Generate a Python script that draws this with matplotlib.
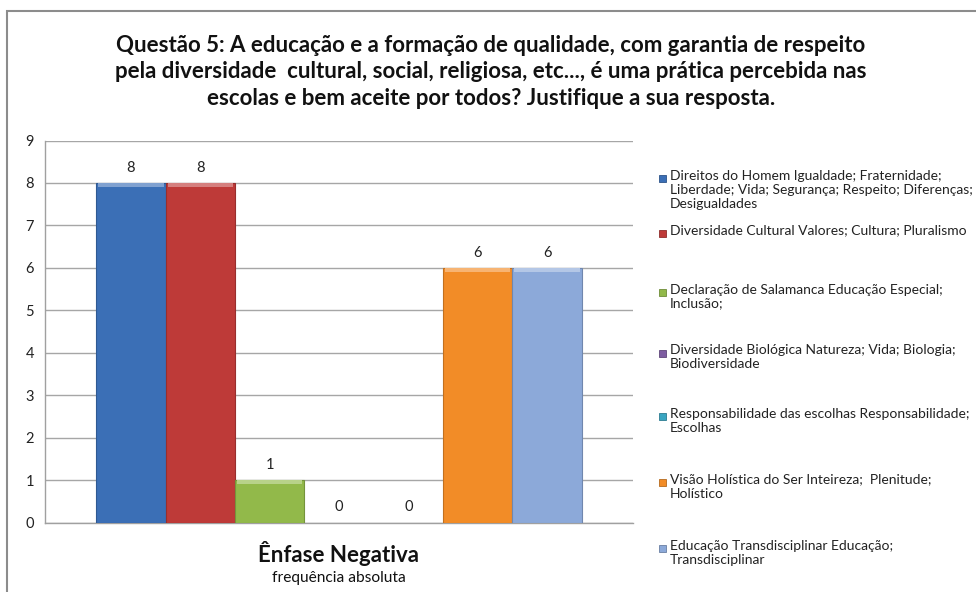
import matplotlib
matplotlib.use("Agg")
import matplotlib.pyplot as plt
from matplotlib.patches import Rectangle
import numpy as np

plt.rcParams["font.family"] = ["Lato", "DejaVu Sans"]

title = ("Questão 5: A educação e a formação de qualidade, com garantia de respeito\n"
         "pela diversidade  cultural, social, religiosa, etc..., é uma prática percebida nas\n"
         "escolas e bem aceite por todos? Justifique a sua resposta.")

series = [
    "Direitos do Homem Igualdade; Fraternidade;\nLiberdade; Vida; Segurança; Respeito; Diferenças;\nDesigualdades",
    "Diversidade Cultural Valores; Cultura; Pluralismo",
    "Declaração de Salamanca Educação Especial;\nInclusão;",
    "Diversidade Biológica Natureza; Vida; Biologia;\nBiodiversidade",
    "Responsabilidade das escolhas Responsabilidade;\nEscolhas",
    "Visão Holística do Ser Inteireza;  Plenitude;\nHolístico",
    "Educação Transdisciplinar Educação;\nTransdisciplinar",
]
values = [8, 8, 1, 0, 0, 6, 6]
colors = ["#3B6FB6", "#BE3A38", "#92B94A", "#7E5DA1", "#3AA5C1", "#F28C27", "#8CA9D9"]
category = "Ênfase Negativa"
subtitle = "frequência absoluta"
yticks = list(range(0, 10))

W, H = 976, 592
fig = plt.figure(figsize=(W / 100, H / 100), dpi=100)

# chart area border
fig.add_artist(Rectangle((7 / W, -0.1), 1.2, 1.1 - 11 / H, transform=fig.transFigure,
                         fill=False, edgecolor="#8C8C8C", lw=1.5))

ax = fig.add_axes([45 / W, 1 - 522.5 / H, 588 / W, 382 / H])

n = len(values)
offsets = np.arange(n) - (n - 1) / 2
for off, v, c in zip(offsets, values, colors):
    rgb = matplotlib.colors.to_rgb(c)
    dark = tuple(x * 0.8 for x in rgb)
    ax.bar(off, v, width=1.0, color=c, edgecolor=dark if v > 0 else "none", linewidth=0.8, zorder=3)
    if v > 0:
        # light bevel on top of the bar
        light = tuple(min(1, x + (1 - x) * 0.35) for x in rgb)
        ax.bar(off, 0.1, bottom=v - 0.1, width=0.94, color=light, linewidth=0, zorder=4)
    ax.annotate(str(v), (off, v), xytext=(0, 11), textcoords="offset points",
                ha="center", va="center", fontsize=10.5, color="#222222")

ax.set_xlim(-4.24, 4.24)
ax.set_ylim(0, 9)
ax.set_yticks(yticks)
ax.set_xticks([])
ax.tick_params(axis="y", length=0, pad=8, labelsize=10.5, labelcolor="#222222")
ax.yaxis.grid(True, color="#A6A6A6", lw=1)
ax.set_axisbelow(True)
for s in ["top", "right"]:
    ax.spines[s].set_visible(False)
for s in ["left", "bottom"]:
    ax.spines[s].set_color("#A0A0A0")
    ax.spines[s].set_linewidth(1)

fig.text(491 / W, 1 - 72 / H, title, ha="center", va="center", fontsize=16,
         fontweight="bold", linespacing=1.3, color="#111111")

fig.text(339 / W, 1 - 554 / H, category, ha="center", va="center", fontsize=16,
         fontweight="bold", color="#111111")
fig.text(339 / W, 1 - 578 / H, subtitle, ha="center", va="center", fontsize=11.2,
         color="#111111")

# legend, placed entry by entry like the Excel original
legend_y = [178, 233, 292, 353, 416, 482, 548]
for lab, c, yp in zip(series, colors, legend_y):
    fig.add_artist(Rectangle((659 / W, 1 - (yp + 3.5) / H), 7 / W, 7 / H,
                             transform=fig.transFigure, facecolor=c,
                             edgecolor=tuple(x * 0.75 for x in matplotlib.colors.to_rgb(c)), lw=0.6))
    fig.text(670 / W, 1 - (yp - 8.5) / H, lab, ha="left", va="top", fontsize=10,
             linespacing=1.2, color="#222222")

fig.savefig("out.png", dpi=100)
